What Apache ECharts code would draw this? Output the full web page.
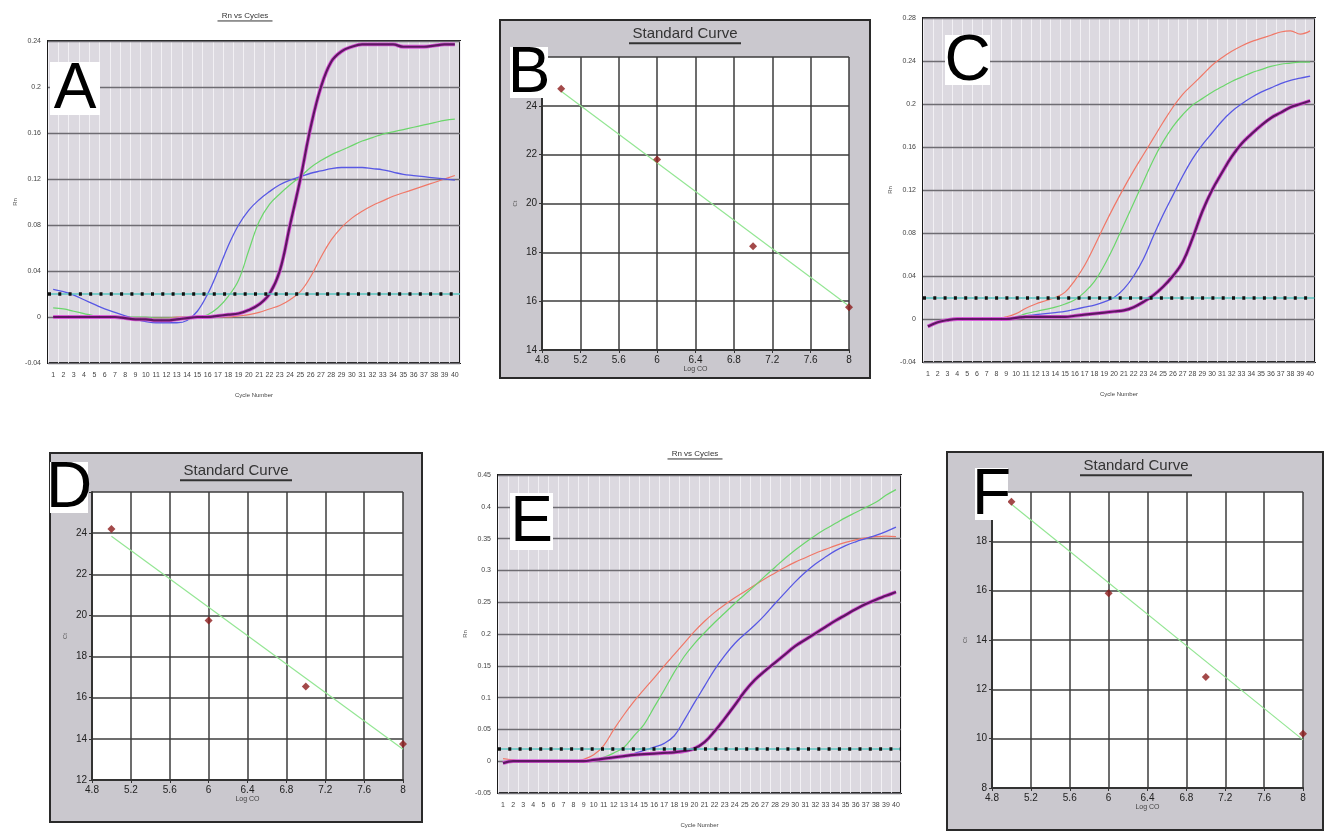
<!DOCTYPE html>
<html><head><meta charset="utf-8">
<script src="https://cdn.jsdelivr.net/npm/echarts@6/dist/echarts.min.js"></script>
<style>html,body{margin:0;padding:0;background:#fff;}#c{width:1325px;height:832px;}</style>
</head><body><div id="c"></div>
<script>
// ---------- data ----------
const cycles = ['1','2','3','4','5','6','7','8','9','10','11','12','13','14','15','16','17','18','19','20','21','22','23','24','25','26','27','28','29','30','31','32','33','34','35','36','37','38','39','40'];

// Panel A (Rn vs Cycles)
const aPurple = [0,0,0,0,0,0,0,-0.001,-0.002,-0.002,-0.003,-0.003,-0.002,-0.001,0,0,0.001,0.002,0.003,0.006,0.011,0.02,0.04,0.08,0.12,0.165,0.2,0.222,0.231,0.235,0.237,0.237,0.237,0.237,0.235,0.235,0.235,0.236,0.237,0.237];
const aBlue = [0.024,0.022,0.019,0.015,0.011,0.007,0.004,0.001,-0.002,-0.004,-0.005,-0.005,-0.005,-0.003,0.005,0.02,0.04,0.062,0.08,0.093,0.102,0.109,0.115,0.119,0.122,0.125,0.127,0.129,0.13,0.13,0.13,0.129,0.128,0.126,0.124,0.123,0.122,0.121,0.12,0.119];
const aGreen = [0.008,0.007,0.005,0.003,0.001,0,0,0,0,0,-0.001,-0.001,-0.001,0,0,0.002,0.008,0.018,0.032,0.058,0.083,0.098,0.107,0.115,0.122,0.13,0.136,0.141,0.145,0.149,0.153,0.156,0.159,0.161,0.163,0.165,0.167,0.169,0.171,0.172];
const aRed = [0,0,0,0,0,0,0,0,-0.001,-0.001,-0.001,-0.001,0,0,0,0,0,0,0.001,0.002,0.004,0.007,0.01,0.015,0.022,0.035,0.052,0.067,0.078,0.086,0.092,0.097,0.101,0.105,0.108,0.111,0.114,0.117,0.12,0.123];
const aThreshold = 0.021;

// Panel C
const cRed = [-0.006,-0.003,-0.001,0,0,0,0,0,0.002,0.005,0.01,0.014,0.017,0.02,0.025,0.036,0.05,0.068,0.087,0.105,0.122,0.138,0.153,0.168,0.183,0.197,0.209,0.218,0.227,0.236,0.243,0.249,0.254,0.258,0.261,0.264,0.267,0.268,0.265,0.268];
const cGreen = [-0.006,-0.003,-0.001,0,0,0,0,0,0,0.002,0.005,0.007,0.009,0.011,0.014,0.018,0.025,0.035,0.05,0.068,0.088,0.108,0.128,0.148,0.165,0.179,0.19,0.199,0.205,0.211,0.216,0.221,0.225,0.229,0.232,0.235,0.237,0.238,0.239,0.239];
const cBlue = [-0.006,-0.003,-0.001,0,0,0,0,0,0,0.001,0.003,0.004,0.005,0.006,0.007,0.009,0.011,0.013,0.016,0.02,0.028,0.04,0.056,0.077,0.097,0.115,0.133,0.149,0.162,0.173,0.184,0.193,0.2,0.206,0.211,0.215,0.219,0.222,0.224,0.226];
const cPurple = [-0.007,-0.003,-0.001,0,0,0,0,0,0,0.001,0.002,0.002,0.002,0.002,0.002,0.003,0.004,0.005,0.006,0.007,0.008,0.011,0.016,0.022,0.03,0.04,0.053,0.075,0.1,0.12,0.136,0.151,0.163,0.172,0.18,0.187,0.192,0.197,0.2,0.203];
const cThreshold = 0.0195;

// Panel E
const eRed = [0.004,0.002,0,0,0,0,0,0,0.003,0.01,0.025,0.05,0.073,0.094,0.113,0.131,0.15,0.168,0.186,0.204,0.22,0.234,0.246,0.257,0.267,0.277,0.287,0.296,0.305,0.313,0.32,0.327,0.333,0.339,0.344,0.348,0.351,0.353,0.354,0.353];
const eGreen = [-0.002,0,0,0,0,0,0,0,0,0.002,0.006,0.013,0.022,0.04,0.058,0.085,0.112,0.14,0.165,0.185,0.202,0.218,0.233,0.248,0.262,0.276,0.291,0.305,0.319,0.332,0.344,0.355,0.365,0.374,0.383,0.391,0.399,0.407,0.418,0.427];
const eBlue = [-0.003,0,0,0,0,0,0,0,0,0.001,0.003,0.005,0.008,0.012,0.017,0.022,0.028,0.04,0.065,0.092,0.118,0.144,0.166,0.185,0.2,0.214,0.23,0.248,0.265,0.282,0.297,0.31,0.321,0.331,0.339,0.345,0.35,0.355,0.361,0.368];
const ePurple = [-0.003,0,0,0,0,0,0,0,0,0.002,0.004,0.006,0.008,0.01,0.011,0.012,0.013,0.014,0.016,0.02,0.03,0.047,0.067,0.088,0.11,0.128,0.142,0.155,0.168,0.181,0.191,0.201,0.211,0.221,0.23,0.239,0.247,0.254,0.26,0.266];
const eThreshold = 0.022;

// Standard curves (log CO vs Ct)
const logCO = [5, 6, 7, 8];
const bCt = [24.7, 21.8, 18.25, 15.75];
const dCt = [24.2, 19.75, 16.55, 13.75];
const fCt = [19.6, 15.9, 12.5, 10.2];
const fitX = [5, 8];
const bFit = [24.6, 15.8];
const dFit = [23.85, 13.5];
const fFit = [19.5, 9.95];

// ---------- styling ----------
const FONT = 'Liberation Sans';
const COL = {red:'#f07868', green:'#6cd66c', blue:'#5858e4', purple:'#5e1762', magenta:'#d85ad8'};

function ampGrid(l,t,w,h){
  return {left:l, top:t, width:w, height:h, show:true, backgroundColor:'#dcd9e0', borderColor:'#1a1a1a', borderWidth:2, containLabel:false};
}
function stdGrid(l,t,w,h){
  return {left:l, top:t, width:w, height:h, show:true, backgroundColor:'#ffffff', borderWidth:0, containLabel:false};
}
function ampX(gi){
  return {type:'category', gridIndex:gi, data:cycles, boundaryGap:true, z:0,
    name:'Cycle Number', nameLocation:'middle', nameGap:29, nameTextStyle:{fontSize:6, color:'#444', fontFamily:FONT},
    axisLine:{show:false}, axisTick:{show:false},
    axisLabel:{interval:0, fontSize:7, color:'#444', margin:9, fontFamily:FONT},
    splitLine:{show:true, interval:0, lineStyle:{color:'#f2f0f4', width:1}}};
}
function ampY(gi,min,max,iv){
  return {type:'value', gridIndex:gi, min:min, max:max, interval:iv, z:2,
    name:'Rn', nameLocation:'middle', nameRotate:90, nameGap:30, nameTextStyle:{fontSize:6, color:'#555', fontFamily:FONT},
    axisLine:{show:false}, axisTick:{show:false},
    axisLabel:{fontSize:7, color:'#444', margin:7, fontFamily:FONT, formatter:v=>String(+v.toFixed(2))},
    splitLine:{show:true, lineStyle:{color:'#6e6c72', width:1.3}}};
}
function stdX(gi){
  return {type:'value', gridIndex:gi, min:4.8, max:8, interval:0.4,
    name:'Log CO', nameLocation:'middle', nameGap:16, nameTextStyle:{fontSize:7, color:'#444', fontFamily:FONT},
    axisLine:{show:true, lineStyle:{color:'#333', width:2}}, axisTick:{show:true, length:3, lineStyle:{color:'#333'}},
    axisLabel:{fontSize:10, color:'#222', margin:5, fontFamily:FONT, formatter:v=>String(+v.toFixed(1))},
    splitLine:{show:true, lineStyle:{color:'#3c3c3c', width:1.5}}};
}
function stdY(gi,min,max){
  return {type:'value', gridIndex:gi, min:min, max:max, interval:2,
    name:'Ct', nameLocation:'middle', nameRotate:90, nameGap:24, nameTextStyle:{fontSize:6, color:'#555', fontFamily:FONT},
    axisLine:{show:true, lineStyle:{color:'#333', width:2}}, axisTick:{show:true, length:3, lineStyle:{color:'#333'}},
    axisLabel:{fontSize:10, color:'#222', margin:5, fontFamily:FONT},
    splitLine:{show:true, lineStyle:{color:'#3c3c3c', width:1.5}}};
}
function curve(gi,data,color,width,z){
  return {type:'line', xAxisIndex:gi, yAxisIndex:gi, data:data, showSymbol:false, smooth:0.4,
    lineStyle:{color:color, width:width}, z:z||3, silent:true, animation:false};
}
function threshold(gi,val){
  return {type:'line', xAxisIndex:gi, yAxisIndex:gi, data:[], silent:true, animation:false, z:6,
    markLine:{silent:true, symbol:'none', animation:false, label:{show:false},
      data:[{yAxis:val, lineStyle:{color:'#58c4c0', width:1.5, type:'solid'}},
            {yAxis:val, lineStyle:{color:'#111', width:3.5, type:[3,7.3]}}]}};
}
function pts(gi,ys){
  return {type:'scatter', xAxisIndex:gi, yAxisIndex:gi, data:logCO.map((x,i)=>[x,ys[i]]),
    symbol:'diamond', symbolSize:8, itemStyle:{color:'#8c1c1c'}, z:5, silent:true, animation:false};
}
function fit(gi,ys){
  return {type:'line', xAxisIndex:gi, yAxisIndex:gi, data:fitX.map((x,i)=>[x,ys[i]]),
    showSymbol:false, lineStyle:{color:'#94e694', width:1.2}, z:4, silent:true, animation:false};
}
function box(x,y,w,h){
  return {type:'rect', shape:{x:x,y:y,width:w,height:h}, style:{fill:'#cac8ce', stroke:'#2a2a2a', lineWidth:2}, z:-10, zlevel:0, silent:true};
}
function letter(ch,x,y,w,h){
  return [
    {type:'rect', shape:{x:x,y:y,width:w,height:h}, style:{fill:'#fff'}, z:100, silent:true},
    {type:'text', x:x+w/2, y:y+h/2+2, style:{text:ch, fill:'#000', font:'64px "Liberation Sans"', align:'center', verticalAlign:'middle'}, z:101, silent:true}
  ];
}
function title(txt,cx,cy,size,ulw){
  return [
    {type:'text', x:cx, y:cy, style:{text:txt, fill:'#333', font:size+'px "Liberation Sans"', align:'center', verticalAlign:'middle'}, z:50, silent:true},
    {type:'line', shape:{x1:cx-ulw/2, y1:cy+size*0.62, x2:cx+ulw/2, y2:cy+size*0.62}, style:{stroke:'#333', lineWidth:size>10?2:1}, z:50, silent:true}
  ];
}

const option = {
  animation:false,
  backgroundColor:'#ffffff',
  grid:[
    ampGrid(48,41,412,322),      // A
    stdGrid(542,57,307,293),     // B
    ampGrid(923,18,392,344),     // C
    stdGrid(92,492,311,288),     // D
    ampGrid(498,475,403,318),    // E
    stdGrid(992,492,311,296)     // F
  ],
  xAxis:[ampX(0), stdX(1), ampX(2), stdX(3), ampX(4), stdX(5)],
  yAxis:[ampY(0,-0.04,0.24,0.04), stdY(1,14,26), ampY(2,-0.04,0.28,0.04), stdY(3,12,26), ampY(4,-0.05,0.45,0.05), stdY(5,8,20)],
  series:[
    curve(0,aRed,COL.red,1.2), curve(0,aGreen,COL.green,1.2), curve(0,aBlue,COL.blue,1.3),
    curve(0,aPurple,COL.magenta,3.8,3), curve(0,aPurple,COL.purple,2.2,4), threshold(0,aThreshold),
    pts(1,bCt), fit(1,bFit),
    curve(2,cRed,COL.red,1.2), curve(2,cGreen,COL.green,1.2), curve(2,cBlue,COL.blue,1.3),
    curve(2,cPurple,COL.magenta,3.8,3), curve(2,cPurple,COL.purple,2.2,4), threshold(2,cThreshold),
    pts(3,dCt), fit(3,dFit),
    curve(4,eRed,COL.red,1.2), curve(4,eGreen,COL.green,1.2), curve(4,eBlue,COL.blue,1.3),
    curve(4,ePurple,COL.magenta,3.8,3), curve(4,ePurple,COL.purple,2.2,4), threshold(4,eThreshold),
    pts(5,fCt), fit(5,fFit)
  ],
  graphic:[
    box(500,20,370,358), box(50,453,372,369), box(947,452,376,378),
    ...title('Rn vs Cycles',245,16,8,55),
    ...title('Rn vs Cycles',695,454,8,55),
    ...title('Standard Curve',685,34,15,112),
    ...title('Standard Curve',236,471,15,112),
    ...title('Standard Curve',1136,466,15,112),
    ...letter('A',50,62,50,53),
    ...letter('B',510,47,38,51),
    ...letter('C',945,35,45,50),
    ...letter('D',50,462,38,51),
    ...letter('E',510,493,43,57),
    ...letter('F',975,468,33,52)
  ]
};
const chart = echarts.init(document.getElementById('c'), null, {renderer:'canvas'});
chart.setOption(option);
</script></body></html>
